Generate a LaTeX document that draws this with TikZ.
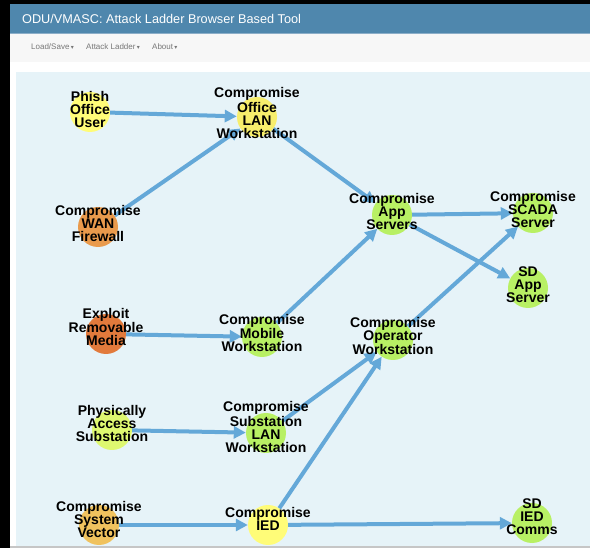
\documentclass[tikz,border=0pt]{standalone}
\usepackage{fontspec}
\setmainfont{Liberation Sans}
\newfontfamily\symfont{DejaVu Sans}
\usetikzlibrary{arrows.meta}

\definecolor{hdrblue}{RGB}{79,135,173}
\definecolor{hdrline}{RGB}{140,174,200}
\definecolor{navgray}{RGB}{247,247,247}
\definecolor{navtext}{RGB}{119,119,119}
\definecolor{panel}{RGB}{230,243,248}
\definecolor{edgeblue}{RGB}{100,168,216}
\definecolor{cyellow}{RGB}{255,252,120}
\definecolor{cyellowb}{RGB}{247,238,108}
\definecolor{corange}{RGB}{233,154,76}
\definecolor{corangeb}{RGB}{226,122,60}
\definecolor{cgold}{RGB}{240,194,94}
\definecolor{cgreen}{RGB}{184,240,100}
\definecolor{clime}{RGB}{222,248,112}

\tikzset{
  vert/.style={circle, minimum size=40pt, inner sep=0pt, draw=none},
  lbl/.style={font=\bfseries\fontsize{14}{13}\selectfont, align=center, text=black, inner sep=0pt},
  link/.style={draw=edgeblue, line width=4pt, -{Triangle[length=12pt,width=12pt]}},
  menu/.style={anchor=west, inner sep=0pt, text=navtext, font=\fontsize{8}{10}\selectfont},
}
\newcommand{\caretmark}{\,{\symfont\fontsize{6}{6}\selectfont ▾}}

\begin{document}
\begin{tikzpicture}[x=1pt,y=-1pt]
\useasboundingbox (0,0) rectangle (590,548);
% window frame and page chrome
\fill[black] (0,0) rectangle (590,548);
\fill[white] (10,4) rectangle (590,548);
\fill[hdrblue] (10,4) rectangle (590,33);
\fill[hdrline] (10,33) rectangle (590,34);
\fill[navgray] (10,34) rectangle (590,62);
\fill[gray!45] (10,546) rectangle (590,548);
\fill[panel] (16,72) rectangle (590,546);

\node[anchor=west, inner sep=0pt, text=white, font=\fontsize{12.7}{15}\selectfont] (title) at (22,19) {ODU/VMASC: Attack Ladder Browser Based Tool};
\node[menu] (mload) at (31,47) {Load/Save\caretmark};
\node[menu] (mladder) at (86,47) {Attack Ladder\caretmark};
\node[menu] (mabout) at (152,47) {About\caretmark};

% attack steps
\node[vert, fill=cyellow]  (phish)    at (90,112)  {};
\node[vert, fill=cyellowb] (officelan) at (257,117) {};
\node[vert, fill=corange]  (wan)      at (98,227)  {};
\node[vert, fill=cgreen]   (appsrv)   at (392,215) {};
\node[vert, fill=cgreen]   (scada)    at (533,213) {};
\node[vert, fill=cgreen]   (sdapp)    at (528,288) {};
\node[vert, fill=corangeb] (exploit)  at (106,334) {};
\node[vert, fill=cgreen]   (mobile)   at (262,337) {};
\node[vert, fill=cgreen]   (operator) at (393,340) {};
\node[vert, fill=clime]    (physical) at (112,430) {};
\node[vert, fill=cgreen]   (sublan)   at (266,433) {};
\node[vert, fill=cgold]    (sysvec)   at (99,525)  {};
\node[vert, fill=cyellow]  (ied)      at (268,525) {};
\node[vert, fill=cgreen]   (sdied)    at (532,523) {};

% attack paths
\draw[link] (phish) -- (officelan);
\draw[link] (wan) -- (officelan);
\draw[link] (officelan) -- (appsrv);
\draw[link] (mobile) -- (appsrv);
\draw[link] (appsrv) -- (scada);
\draw[link] (appsrv) -- (sdapp);
\draw[link] (operator) -- (scada);
\draw[link] (exploit) -- (mobile);
\draw[link] (physical) -- (sublan);
\draw[link] (sublan) -- (operator);
\draw[link] (ied) -- (operator);
\draw[link] (sysvec) -- (ied);
\draw[link] (ied) -- (sdied);

% step names
\node[lbl] (tphish)    at ([yshift=3pt]phish.center)    {Phish\\Office\\User};
\node[lbl] (tofficelan) at ([yshift=4pt]officelan.center) {Compromise\\Office\\LAN\\Workstation};
\node[lbl] (twan)      at ([yshift=4pt]wan.center)      {Compromise\\WAN\\Firewall};
\node[lbl] (tappsrv)   at ([yshift=4pt]appsrv.center)   {Compromise\\App\\Servers};
\node[lbl] (tscada)    at ([yshift=4pt]scada.center)    {Compromise\\SCADA\\Server};
\node[lbl] (tsdapp)    at ([yshift=3pt]sdapp.center)    {SD\\App\\Server};
\node[lbl] (texploit)  at ([yshift=7pt]exploit.center)  {Exploit\\Removable\\Media};
\node[lbl] (tmobile)   at ([yshift=4pt]mobile.center)   {Compromise\\Mobile\\Workstation};
\node[lbl] (toperator) at ([yshift=4pt]operator.center) {Compromise\\Operator\\Workstation};
\node[lbl] (tphysical) at ([yshift=7pt]physical.center) {Physically\\Access\\Substation};
\node[lbl] (tsublan)   at ([yshift=6pt]sublan.center)   {Compromise\\Substation\\LAN\\Workstation};
\node[lbl] (tsysvec)   at ([yshift=6pt]sysvec.center)   {Compromise\\System\\Vector};
\node[lbl] (tied)      at ([yshift=6pt]ied.center)      {Compromise\\IED};
\node[lbl] (tsdied)    at ([yshift=6pt]sdied.center)    {SD\\IED\\Comms};
\end{tikzpicture}
\end{document}
